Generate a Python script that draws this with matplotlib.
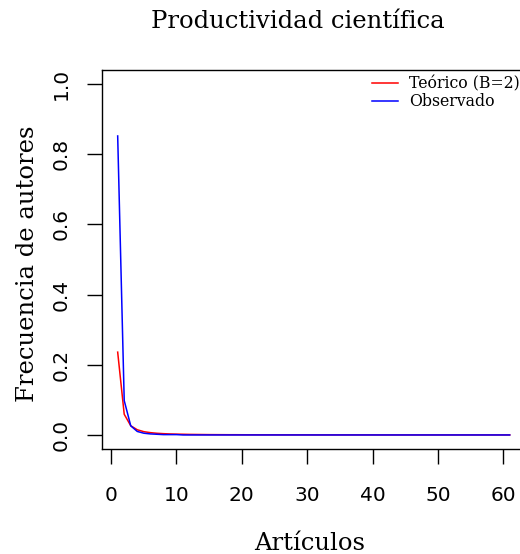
import matplotlib
matplotlib.use("Agg")
import matplotlib.pyplot as plt

# articles per author (x) and frequency of authors
articulos = list(range(1, 62))

teorico = [0.2360, 0.0590, 0.0262, 0.0148, 0.0094, 0.0066, 0.0048, 0.0037, 0.0029, 0.0024,
           0.0020, 0.0016, 0.0014, 0.0012, 0.0010, 0.0009, 0.0008, 0.0007, 0.0007, 0.0006,
           0.0005, 0.0005, 0.0004, 0.0004, 0.0004, 0.0003, 0.0003, 0.0003, 0.0003, 0.0003,
           0.0002, 0.0002, 0.0002, 0.0002, 0.0002, 0.0002, 0.0002, 0.0002, 0.0002, 0.0002,
           0.0001, 0.0001, 0.0001, 0.0001, 0.0001, 0.0001, 0.0001, 0.0001, 0.0001, 0.0001,
           0.0001, 0.0001, 0.0001, 0.0001, 0.0001, 0.0001, 0.0001, 0.0001, 0.0001, 0.0001,
           0.0001]

observado = [0.852, 0.098, 0.026, 0.010, 0.005, 0.003, 0.002, 0.001, 0.001, 0.001,
             0.0, 0.0, 0.0, 0.0, 0.0, 0.0, 0.0, 0.0, 0.0, 0.0,
             0.0, 0.0, 0.0, 0.0, 0.0, 0.0, 0.0, 0.0, 0.0, 0.0,
             0.0, 0.0, 0.0, 0.0, 0.0, 0.0, 0.0, 0.0, 0.0, 0.0,
             0.0, 0.0, 0.0, 0.0, 0.0, 0.0, 0.0, 0.0, 0.0, 0.0,
             0.0, 0.0, 0.0, 0.0, 0.0, 0.0, 0.0, 0.0, 0.0, 0.0,
             0.0]

xticks = [0, 10, 20, 30, 40, 50, 60]
yticks = [0.0, 0.2, 0.4, 0.6, 0.8, 1.0]

W, H = 520, 554
fig = plt.figure(figsize=(W / 100, H / 100), dpi=100)
ax = fig.add_axes([102 / W, (H - 449) / H, 423.4 / W, 379 / H])

ax.plot(articulos, teorico, color="red", lw=1.1, label="Teórico (B=2)")
ax.plot(articulos, observado, color="blue", lw=1.1, label="Observado")

ax.set_xlim(-1.4, 63.4)
ax.set_ylim(-0.04, 1.04)
ax.set_xticks(xticks)
ax.set_xticklabels([str(t) for t in xticks])
ax.set_yticks(yticks)
ax.set_yticklabels(["%.1f" % t for t in yticks], rotation=90, va="center")
ax.tick_params(direction="out", length=10.8, width=1, labelsize=14.5)
ax.tick_params(axis="x", pad=15.5)
ax.tick_params(axis="y", pad=12)
for s in ax.spines.values():
    s.set_linewidth(1)

fig.text(298 / W, 1 - 22 / H, "Productividad científica", family="DejaVu Serif",
         fontsize=17.5, ha="center", va="center")
fig.text(310 / W, 1 - 544 / H, "Artículos", family="DejaVu Serif",
         fontsize=17.5, ha="center", va="center")
fig.text(28 / W, 1 - 264 / H, "Frecuencia de autores", family="DejaVu Serif",
         fontsize=17.5, ha="center", va="center", rotation=90)

ax.legend(loc="center left", bbox_to_anchor=(372 / W, 1 - 93 / H),
          bbox_transform=fig.transFigure, frameon=False,
          prop={"family": "DejaVu Serif", "size": 11.3},
          handlelength=1.66, handletextpad=0.7, labelspacing=0.05,
          borderpad=0, borderaxespad=0)

fig.savefig("out.png", dpi=100)
